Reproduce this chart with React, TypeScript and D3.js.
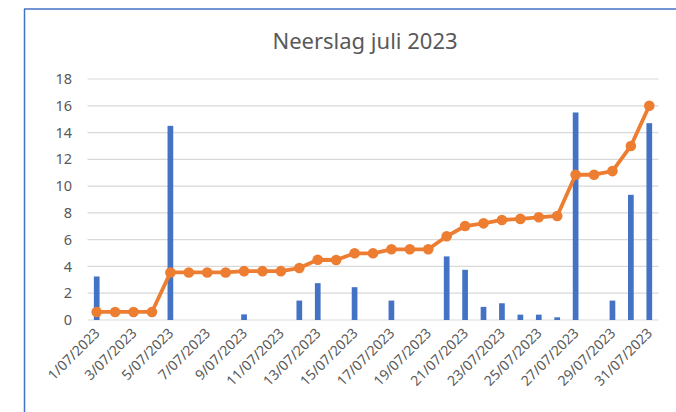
import React from "react";
import * as d3 from "d3";

const days: string[] = Array.from({ length: 31 }, (_, i) => `${i + 1}/07/2023`);
const dailyRain: number[] = [
  3.25, 0, 0, 0, 14.5, 0, 0, 0, 0.42, 0, 0, 1.45, 2.75, 0, 2.45, 0, 1.45, 0, 0,
  4.75, 3.75, 0.98, 1.25, 0.4, 0.4, 0.2, 15.5, 0, 1.45, 9.35, 14.7,
];
const lineValues: number[] = [
  0.6, 0.6, 0.6, 0.6, 3.55, 3.55, 3.55, 3.55, 3.65, 3.65, 3.65, 3.88, 4.5, 4.48,
  4.98, 4.98, 5.28, 5.28, 5.28, 6.25, 7.02, 7.22, 7.47, 7.55, 7.67, 7.77, 10.85,
  10.85, 11.12, 13.0, 16.0,
];
const yTicks: number[] = [0, 2, 4, 6, 8, 10, 12, 14, 16, 18];
const title = "Neerslag juli 2023";

const W = 676;
const H = 412;
const plot = { left: 87.5, right: 658.5, top: 79, bottom: 320 };
const font = "'Noto Sans', 'Open Sans', sans-serif";
const textColor = "#595959";

export default function App() {
  const x = d3
    .scaleBand<string>()
    .domain(days)
    .range([plot.left, plot.right])
    .paddingInner(0)
    .paddingOuter(0);
  const y = d3.scaleLinear().domain([0, 18]).range([plot.bottom, plot.top]);
  const cx = (d: string) => (x(d) as number) + x.bandwidth() / 2;
  const barW = 5.7;

  const line = d3
    .line<number>()
    .x((_, i) => cx(days[i]))
    .y((v) => y(v));

  return (
    <svg
      width={W}
      height={H}
      style={{ position: "absolute", left: 0, top: 0, background: "#fff" }}
    >
      <rect x={0} y={0} width={W} height={H} fill="#fff" />
      {/* frame */}
      <line x1={24.5} y1={9} x2={24.5} y2={H} stroke="#4472C4" strokeWidth={1.5} />
      <line x1={24} y1={9} x2={W} y2={9} stroke="#4472C4" strokeWidth={1.5} />

      <text
        x={365}
        y={48.5}
        textAnchor="middle"
        fontFamily={font}
        fontSize={22}
        fill={textColor}
      >
        {title}
      </text>

      {yTicks.map((t) => (
        <g key={t}>
          <line
            x1={plot.left}
            x2={plot.right}
            y1={y(t)}
            y2={y(t)}
            stroke="#D9D9D9"
            strokeWidth={1.2}
          />
          <text
            x={72}
            y={y(t)}
            dy="0.35em"
            textAnchor="end"
            fontFamily={font}
            fontSize={14.5}
            fill={textColor}
          >
            {t}
          </text>
        </g>
      ))}

      {days.map((d, i) => (
        <rect
          key={d}
          x={cx(d) - barW / 2}
          y={y(dailyRain[i])}
          width={barW}
          height={plot.bottom - y(dailyRain[i])}
          fill="#4472C4"
        />
      ))}

      <path
        d={line(lineValues) || ""}
        fill="none"
        stroke="#ED7D31"
        strokeWidth={3.8}
        strokeLinejoin="round"
      />
      {lineValues.map((v, i) => (
        <circle key={i} cx={cx(days[i])} cy={y(v)} r={5.3} fill="#ED7D31" />
      ))}

      {days.map((d, i) =>
        i % 2 === 0 ? (
          <text
            key={d}
            transform={`translate(${cx(d) + 4},${plot.bottom + 14}) rotate(-45)`}
            textAnchor="end"
            fontFamily={font}
            fontSize={14}
            fill={textColor}
          >
            {d}
          </text>
        ) : null
      )}
    </svg>
  );
}
